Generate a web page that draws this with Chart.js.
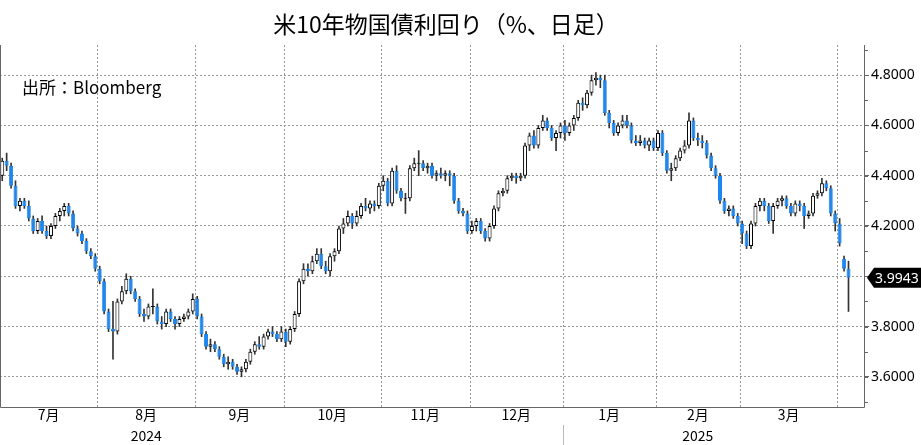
<!DOCTYPE html>
<html><head><meta charset="utf-8">
<script src="https://cdn.jsdelivr.net/npm/chart.js@4/dist/chart.umd.min.js"></script>
<style>body{margin:0;background:#fff}#wrap{width:921px;height:445px}</style>
</head><body><div id="wrap"><canvas id="c"></canvas></div>
<script>
// daily candles [open, high, low, close], one array per month
const jul24 = [[4.40,4.47,4.38,4.46],[4.46,4.49,4.42,4.44],[4.44,4.45,4.35,4.36],[4.36,4.38,4.27,4.28],[4.28,4.31,4.26,4.30],[4.30,4.31,4.27,4.28],[4.28,4.30,4.22,4.23],[4.23,4.24,4.17,4.18],[4.18,4.23,4.17,4.22],[4.22,4.24,4.17,4.18],[4.18,4.20,4.15,4.16],[4.16,4.21,4.15,4.20],[4.20,4.25,4.19,4.24],[4.24,4.27,4.22,4.26],[4.26,4.29,4.24,4.28],[4.28,4.29,4.24,4.25],[4.25,4.26,4.18,4.19],[4.19,4.20,4.16,4.17],[4.17,4.18,4.13,4.14],[4.14,4.15,4.09,4.10],[4.10,4.11,4.07,4.08],[4.08,4.09,4.02,4.03]];
const aug24 = [[4.03,4.04,3.97,3.98],[3.98,3.99,3.85,3.86],[3.86,3.87,3.78,3.79],[3.79,3.90,3.67,3.78],[3.78,3.91,3.77,3.90],[3.90,3.96,3.89,3.94],[3.94,4.01,3.93,3.99],[3.99,4.00,3.93,3.94],[3.94,3.95,3.90,3.91],[3.91,3.92,3.84,3.85],[3.85,3.87,3.82,3.84],[3.84,3.89,3.83,3.88],[3.88,3.95,3.85,3.88],[3.88,3.89,3.81,3.82],[3.82,3.84,3.79,3.81],[3.81,3.87,3.80,3.86],[3.86,3.87,3.82,3.83],[3.83,3.84,3.79,3.81],[3.81,3.84,3.80,3.83],[3.83,3.85,3.82,3.84],[3.84,3.87,3.83,3.86],[3.86,3.93,3.85,3.91]];
const sep24 = [[3.91,3.92,3.83,3.84],[3.84,3.85,3.76,3.77],[3.77,3.78,3.71,3.72],[3.72,3.75,3.70,3.73],[3.73,3.74,3.70,3.71],[3.71,3.72,3.67,3.68],[3.68,3.69,3.64,3.65],[3.65,3.68,3.63,3.66],[3.66,3.67,3.63,3.64],[3.64,3.65,3.61,3.62],[3.62,3.64,3.60,3.63],[3.63,3.67,3.62,3.66],[3.66,3.71,3.65,3.70],[3.70,3.74,3.69,3.73],[3.73,3.76,3.71,3.72],[3.72,3.77,3.71,3.76],[3.76,3.79,3.75,3.78],[3.78,3.80,3.76,3.77],[3.77,3.78,3.74,3.75],[3.75,3.80,3.74,3.78]];
const oct24 = [[3.78,3.79,3.72,3.74],[3.74,3.80,3.73,3.79],[3.79,3.86,3.78,3.85],[3.85,3.99,3.84,3.98],[3.98,4.05,3.97,4.03],[4.03,4.05,4.00,4.02],[4.02,4.08,4.01,4.06],[4.06,4.11,4.05,4.09],[4.09,4.11,4.03,4.04],[4.04,4.06,4.01,4.02],[4.02,4.09,4.00,4.08],[4.08,4.11,4.06,4.10],[4.10,4.20,4.09,4.19],[4.19,4.23,4.17,4.21],[4.21,4.26,4.20,4.24],[4.24,4.25,4.19,4.21],[4.21,4.26,4.20,4.24],[4.24,4.29,4.23,4.28],[4.28,4.31,4.26,4.27],[4.27,4.30,4.25,4.29],[4.29,4.30,4.26,4.28],[4.28,4.37,4.27,4.36]];
const nov24 = [[4.36,4.40,4.34,4.38],[4.38,4.39,4.28,4.29],[4.29,4.43,4.28,4.42],[4.42,4.44,4.33,4.34],[4.34,4.35,4.30,4.31],[4.31,4.33,4.25,4.31],[4.31,4.44,4.30,4.43],[4.43,4.47,4.42,4.45],[4.45,4.50,4.40,4.45],[4.45,4.46,4.42,4.43],[4.43,4.45,4.41,4.44],[4.44,4.45,4.39,4.40],[4.40,4.42,4.38,4.41],[4.41,4.43,4.39,4.40],[4.40,4.42,4.38,4.41],[4.41,4.42,4.36,4.40],[4.40,4.41,4.29,4.30],[4.30,4.31,4.25,4.26],[4.26,4.27,4.24,4.25],[4.25,4.26,4.17,4.18]];
const dec24 = [[4.18,4.22,4.17,4.20],[4.20,4.23,4.18,4.22],[4.22,4.23,4.17,4.18],[4.18,4.19,4.14,4.15],[4.15,4.21,4.14,4.20],[4.20,4.28,4.19,4.27],[4.27,4.34,4.26,4.33],[4.33,4.35,4.32,4.34],[4.34,4.40,4.33,4.39],[4.39,4.41,4.38,4.40],[4.40,4.41,4.37,4.39],[4.39,4.41,4.38,4.40],[4.40,4.53,4.39,4.52],[4.52,4.57,4.50,4.56],[4.56,4.58,4.51,4.52],[4.52,4.60,4.51,4.59],[4.59,4.64,4.58,4.62],[4.62,4.63,4.58,4.59],[4.59,4.60,4.54,4.55],[4.55,4.58,4.50,4.57],[4.57,4.61,4.55,4.60]];
const jan25 = [[4.60,4.62,4.54,4.57],[4.57,4.61,4.56,4.60],[4.60,4.64,4.58,4.63],[4.63,4.70,4.62,4.69],[4.69,4.71,4.66,4.68],[4.68,4.74,4.67,4.73],[4.73,4.80,4.72,4.78],[4.78,4.81,4.76,4.79],[4.79,4.80,4.75,4.78],[4.78,4.80,4.64,4.65],[4.65,4.66,4.59,4.61],[4.61,4.62,4.56,4.57],[4.57,4.61,4.56,4.60],[4.60,4.64,4.59,4.62],[4.62,4.64,4.59,4.60],[4.60,4.61,4.53,4.54],[4.54,4.56,4.52,4.53],[4.53,4.56,4.52,4.54],[4.54,4.55,4.51,4.52],[4.52,4.55,4.50,4.54],[4.54,4.55,4.50,4.51]];
const feb25 = [[4.51,4.58,4.50,4.57],[4.57,4.58,4.48,4.49],[4.49,4.50,4.41,4.42],[4.42,4.45,4.38,4.43],[4.43,4.48,4.42,4.47],[4.47,4.51,4.46,4.50],[4.50,4.54,4.49,4.52],[4.52,4.65,4.51,4.62],[4.62,4.63,4.54,4.55],[4.55,4.57,4.52,4.54],[4.54,4.56,4.51,4.53],[4.53,4.54,4.47,4.48],[4.48,4.49,4.42,4.43],[4.43,4.44,4.39,4.40],[4.40,4.41,4.29,4.30],[4.30,4.31,4.25,4.26],[4.26,4.28,4.24,4.27],[4.27,4.28,4.23,4.24],[4.24,4.25,4.20,4.21]];
const mar25 = [[4.21,4.22,4.13,4.17],[4.17,4.18,4.11,4.12],[4.12,4.22,4.11,4.21],[4.21,4.29,4.20,4.28],[4.28,4.31,4.26,4.30],[4.30,4.31,4.26,4.28],[4.28,4.29,4.21,4.22],[4.22,4.29,4.17,4.28],[4.28,4.31,4.27,4.30],[4.30,4.32,4.28,4.31],[4.31,4.32,4.27,4.28],[4.28,4.29,4.24,4.25],[4.25,4.30,4.24,4.29],[4.29,4.30,4.26,4.28],[4.28,4.29,4.19,4.24],[4.24,4.26,4.23,4.25],[4.25,4.33,4.24,4.32],[4.32,4.34,4.31,4.33],[4.33,4.39,4.32,4.37],[4.37,4.38,4.34,4.35],[4.35,4.36,4.24,4.25],[4.25,4.26,4.18,4.21]];
const apr25 = [[4.21,4.23,4.12,4.13],[4.07,4.08,4.02,4.03],[4.03,4.06,3.86,3.9943]];

const months = [jul24, aug24, sep24, oct24, nov24, dec24, jan25, feb25, mar25, apr25];
const monthNames = ['7月','8月','9月','10月','11月','12月','1月','2月','3月',''];
const yearLabels = [['2024', 1], ['2025', 7]]; // [label, month index]
const yTicks = [3.6, 3.8, 4.0, 4.2, 4.4, 4.6, 4.8];
const lastValue = 3.9943;

const rows = [], labels = [], monthStart = [];
months.forEach((m, mi) => {
  monthStart.push(rows.length);
  m.forEach((r, d) => { rows.push(r); labels.push(mi + '-' + d); });
});
monthStart.push(rows.length);
for (let i = 0; i < 3; i++) labels.push('pad' + i);

const UP = '#ffffff', DOWN = '#1e88f0';
const wicks = rows.map(r => [r[2], r[1]]);
const bodies = rows.map(r => r[0] === r[3] ? [r[0] - 0.002, r[3] + 0.002] : [Math.min(r[0], r[3]), Math.max(r[0], r[3])]);
const bodyFill = rows.map(r => r[3] >= r[0] ? UP : DOWN);
const bodyLine = rows.map(r => r[3] >= r[0] ? '#000' : DOWN);

const dec = {
  id: 'dec',
  beforeDatasetsDraw(c) {
    const x = c.scales.x, a = c.chartArea, g = c.ctx;
    g.save();
    g.strokeStyle = '#999'; g.setLineDash([2, 2]); g.lineWidth = 1;
    monthStart.slice(1, -1).forEach(i => {
      const px = Math.round((x.getPixelForValue(i - 1) + x.getPixelForValue(i)) / 2) + 0.5;
      g.beginPath(); g.moveTo(px, a.top); g.lineTo(px, a.bottom); g.stroke();
    });
    g.restore();
  },
  afterDraw(c) {
    const x = c.scales.x, y = c.scales.y, a = c.chartArea, g = c.ctx;
    g.save();
    g.fillStyle = '#000'; g.textAlign = 'center'; g.textBaseline = 'middle';
    g.font = '23px "Noto Sans CJK JP"';
    g.fillText('米10年物国債利回り（%、日足）', 446, 24);
    g.textAlign = 'left'; g.font = '17px "Noto Sans CJK JP"';
    g.fillText('出所：Bloomberg', 22, 88);
    // frame
    g.strokeStyle = '#666'; g.lineWidth = 1;
    g.beginPath(); g.moveTo(a.left + 0.5, a.top); g.lineTo(a.left + 0.5, a.bottom + 0.5);
    g.lineTo(a.right + 0.5, a.bottom + 0.5); g.lineTo(a.right + 0.5, a.top); g.stroke();
    // minor ticks on right axis
    for (let v = 3.5; v <= 4.9; v += 0.1) {
      const py = Math.round(y.getPixelForValue(v)) + 0.5;
      g.beginPath(); g.moveTo(a.right, py); g.lineTo(a.right + 4, py); g.stroke();
    }
    // month labels
    g.font = '14px "Noto Sans CJK JP"'; g.textAlign = 'center';
    const edge = i => (x.getPixelForValue(i - 1) + x.getPixelForValue(i)) / 2;
    months.forEach((m, mi) => {
      if (!monthNames[mi]) return;
      const cx = (edge(monthStart[mi]) + edge(monthStart[mi + 1])) / 2;
      g.fillText(monthNames[mi], cx, a.bottom + 8);
    });
    yearLabels.forEach(([t, mi]) => {
      const cx = (edge(monthStart[mi]) + edge(monthStart[mi + 1])) / 2;
      g.fillText(t, cx, a.bottom + 29);
    });
    const sx = Math.round(edge(monthStart[6])) + 0.5;
    g.strokeStyle = '#bbb';
    g.beginPath(); g.moveTo(sx, a.bottom + 18); g.lineTo(sx, 445); g.stroke();
    // last value tag
    const py = y.getPixelForValue(lastValue);
    g.fillStyle = '#000';
    g.beginPath(); g.moveTo(a.right + 3, py); g.lineTo(a.right + 10, py - 10); g.lineTo(921, py - 10);
    g.lineTo(921, py + 10); g.lineTo(a.right + 10, py + 10); g.closePath(); g.fill();
    g.fillStyle = '#fff'; g.textAlign = 'left'; g.font = '14px "Noto Sans"';
    g.fillText(lastValue.toFixed(4), a.right + 11, py + 1);
    g.restore();
  }
};

new Chart(document.getElementById('c'), {
  type: 'bar',
  data: {
    labels: labels,
    datasets: [
      { data: wicks, backgroundColor: '#333', barThickness: 1, grouped: false, order: 2 },
      { data: bodies, backgroundColor: bodyFill, borderColor: bodyLine, borderWidth: 1, borderSkipped: false,
        barPercentage: 0.9, categoryPercentage: 1, grouped: false, order: 1 }
    ]
  },
  options: {
    responsive: true, maintainAspectRatio: false, animation: false,
    layout: { padding: { top: 45, bottom: 38, left: 0, right: 0 } },
    plugins: { legend: { display: false }, tooltip: { enabled: false } },
    scales: {
      x: { display: false, offset: true },
      y: {
        position: 'right', min: 3.48, max: 4.92,
        afterBuildTicks: s => { s.ticks = yTicks.map(v => ({ value: v })); },
        afterFit: s => { s.width = 57; },
        border: { display: false, dash: [2, 2] },
        grid: { color: '#999', tickLength: 5, tickColor: '#666' },
        ticks: { color: '#000', font: { family: 'Noto Sans', size: 14 }, padding: 2, callback: v => v.toFixed(4) }
      }
    }
  },
  plugins: [dec]
});
</script>
</body></html>
